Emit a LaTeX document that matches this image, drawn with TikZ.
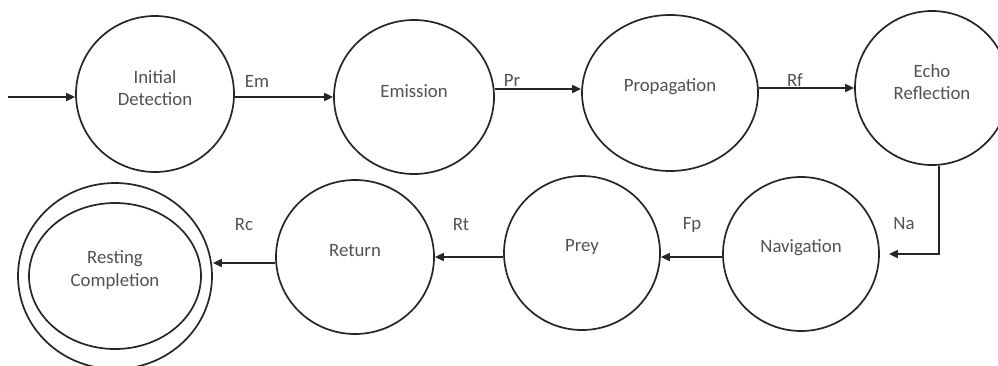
\documentclass[tikz,border=0pt]{standalone}
\usepackage{fontspec}
\setmainfont{Carlito}
\usetikzlibrary{shapes.geometric,arrows.meta}
\begin{document}
\begin{tikzpicture}[x=1pt,y=-1pt,
  state/.style={draw=black!85,line width=1.7pt,ellipse,inner sep=0pt},
  statetext/.style={font=\fontsize{18.8}{22.5}\selectfont,text=black!68,align=center,yshift=6pt},
  trans/.style={draw=black!85,line width=1.7pt,-{Triangle[length=9pt,width=8pt]}},
  lbl/.style={font=\fontsize{18.8}{22.5}\selectfont,text=black!68,inner sep=0pt}]
\clip (0,0) rectangle (998,365);
\fill[white] (0,0) rectangle (998,365);

% states, top row
\node[state,minimum width=158,minimum height=156,
  label={[statetext]center:{Initial\\Detection}}] (ID) at (155,94) {};
\node[state,minimum width=160,minimum height=154,
  label={[statetext]center:Emission}] (Em) at (414,97) {};
\node[state,minimum width=176,minimum height=156,
  label={[statetext]center:Propagation}] (Prop) at (670,93) {};
\node[state,minimum width=154,minimum height=154,
  label={[statetext]center:{Echo\\Reflection}}] (Echo) at (932,88) {};

% states, bottom row
\node[state,minimum width=156,minimum height=154,
  label={[statetext]center:Navigation}] (Nav) at (801,254) {};
\node[state,minimum width=156,minimum height=154,
  label={[statetext]center:Prey}] (Prey) at (582,253) {};
\node[state,minimum width=158,minimum height=154,
  label={[statetext]center:Return}] (Ret) at (355,257) {};
\node[state,minimum width=194,minimum height=186] (Rest) at (115,276) {};
\node[state,minimum width=172,minimum height=146,
  label={[statetext]center:{Resting\\Completion}}] (RestIn) at (115,276) {};

% start marker
\coordinate (start) at (8,97);
\draw[trans] (start) -- (start -| ID.west);

% transitions
\draw[trans] (Em.west -| ID.east) -- (Em.west);
\draw[trans] ([yshift=4pt]Prop.west -| Em.east) -- ([yshift=4pt]Prop.west);
\draw[trans] (Echo.west -| Prop.east) -- (Echo.west);
\draw[trans,shorten >=9pt] ([xshift=7pt]Echo.south) |- (Nav.east);
\draw[trans] ([yshift=-3pt]Nav.west) -- ([yshift=-3pt]Nav.west -| Prey.east);
\draw[trans] (Ret.east -| Prey.west) -- (Ret.east);
\draw[trans] ([yshift=-6pt]Ret.west) -- ([yshift=-6pt]Ret.west -| Rest.east);

% transition labels
\node[lbl] (lEm) at (257,81) {Em};
\node[lbl] (lPr) at (512,80) {Pr};
\node[lbl] (lRf) at (795,80) {Rf};
\node[lbl] (lNa) at (904,224) {Na};
\node[lbl] (lFp) at (692,225) {Fp};
\node[lbl] (lRt) at (461,225) {Rt};
\node[lbl] (lRc) at (244,225) {Rc};
\end{tikzpicture}
\end{document}
